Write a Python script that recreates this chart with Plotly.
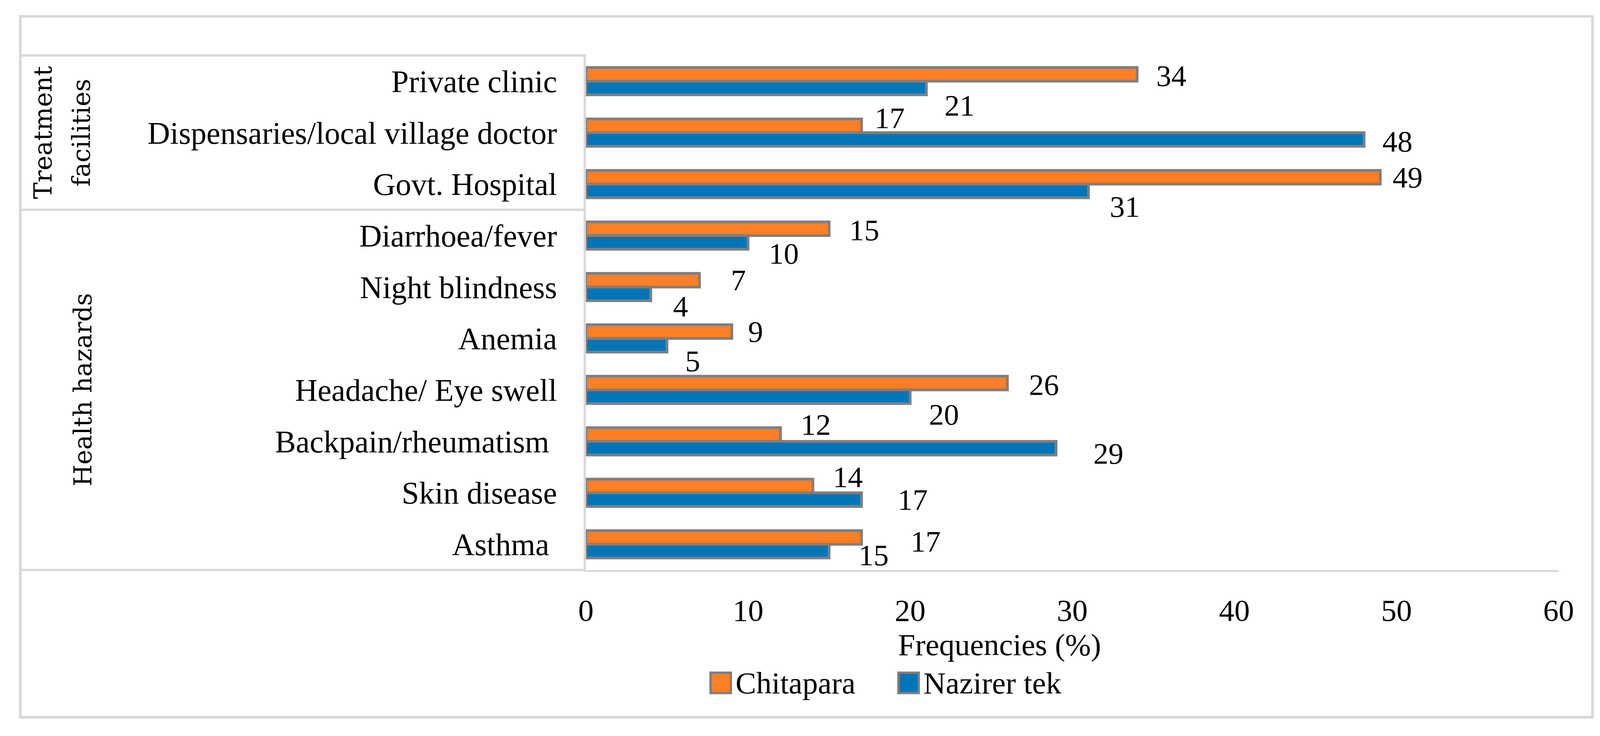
import plotly.graph_objects as go

# ---------------- data ----------------
categories = ["Private clinic", "Dispensaries/local village doctor", "Govt. Hospital",
              "Diarrhoea/fever", "Night blindness", "Anemia", "Headache/ Eye swell",
              "Backpain/rheumatism ", "Skin disease", "Asthma "]
group_names = [["Treatment", "facilities"], ["Health hazards"]]
group_sizes = [3, 7]
series_names = ["Chitapara", "Nazirer tek"]
chitapara = [34, 17, 49, 15, 7, 9, 26, 12, 14, 17]
nazirer_tek = [21, 48, 31, 10, 4, 5, 20, 29, 17, 15]
x_ticks = [0, 10, 20, 30, 40, 50, 60]
x_title = "Frequencies (%)"

# ---------------- style / layout (page pixel coordinates) ----------------
W, H = 4139, 1884
PAGE_OFF = 8  # default body margin of the html page
ML, MR, MT, MB = 1500, 149, 142, 425          # plot area in page coordinates
PW, PH = W - ML - MR, H - MT - MB
ORANGE, BLUE, EDGE, GRID = "#FF7F27", "#0075B9", "#7F7F7F", "#D9D9D9"
SERIF = "Liberation Serif"
GROUP_FONT = "DejaVu Serif"
BAR_HALF = 17.5  # px offset of each bar centre from the category centre

# manual data-label offsets (px): dx from bar end, dy from bar centre
chit_dx = [87, 72, 70, 90, 100, 61, 93, 90, 89, 164]
chit_dy = [4, -20, 0, 4, 0, 0, 4, -25, -23, 10]
naz_dx = [85, 85, 93, 91, 76, 66, 86, 134, 131, 114]
naz_dy = [45, 5, 40, 29, 32, 40, 45, 14, 0, 10]


def px_x(px):
    return (px - ML) / PW


def px_y(py):
    return (H - MB - py) / PH


fig = go.Figure()
for name, vals, col in [(series_names[0], chitapara, ORANGE), (series_names[1], nazirer_tek, BLUE)]:
    fig.add_trace(go.Bar(
        y=categories, x=vals, name=name, orientation="h",
        marker=dict(color=col, line=dict(color=EDGE, width=7)),
        showlegend=False,
    ))

annotations = []
# data labels
for vals, dxs, dys, off in [(chitapara, chit_dx, chit_dy, -BAR_HALF), (nazirer_tek, naz_dx, naz_dy, BAR_HALF)]:
    for i, v in enumerate(vals):
        annotations.append(dict(
            x=v, y=i, xref="x", yref="y", text=str(v), showarrow=False,
            xanchor="center", yanchor="middle", xshift=dxs[i], yshift=-(off + dys[i]),
            font=dict(family=SERIF, size=77, color="black"),
        ))

# group labels (rotated)
start = 0
group_x = [[110, 208], [212]]
for gi, (lines, size) in enumerate(zip(group_names, group_sizes)):
    centre = start + (size - 1) / 2
    for li, line in enumerate(lines):
        annotations.append(dict(
            x=px_x(group_x[gi][li]), y=centre, xref="paper", yref="y", text=line,
            showarrow=False, textangle=-90, xanchor="center", yanchor="middle",
            font=dict(family=GROUP_FONT, size=64, color="black"),
        ))
    start += size

# axis title
annotations.append(dict(
    x=px_x(2559), y=px_y(1650), xref="paper", yref="paper", text=x_title,
    showarrow=False, xanchor="center", yanchor="middle",
    font=dict(family=SERIF, size=79, color="black"),
))

# custom legend
shapes = []
legend_items = [(series_names[0], ORANGE, 1819), (series_names[1], BLUE, 2300)]
for name, col, lx in legend_items:
    shapes.append(dict(type="rect", xref="paper", yref="paper",
                       x0=px_x(lx), x1=px_x(lx + 52), y0=px_y(1774), y1=px_y(1722),
                       line=dict(color=EDGE, width=6), fillcolor=col))
    annotations.append(dict(
        x=px_x(lx + 62), y=px_y(1748), xref="paper", yref="paper", text=name,
        showarrow=False, xanchor="left", yanchor="middle",
        font=dict(family=SERIF, size=79, color="black"),
    ))

# outer border
shapes.append(dict(type="rect", xref="paper", yref="paper",
                   x0=px_x(52), x1=px_x(4077), y0=px_y(1836), y1=px_y(42),
                   line=dict(color=GRID, width=7), fillcolor="rgba(0,0,0,0)", layer="below"))
# category table lines
x_left = px_x(52)
shapes.append(dict(type="line", xref="paper", yref="paper", x0=x_left, x1=0, y0=1, y1=1,
                   line=dict(color=GRID, width=6)))
shapes.append(dict(type="line", xref="paper", yref="paper", x0=x_left, x1=0, y0=0, y1=0,
                   line=dict(color=GRID, width=6)))
shapes.append(dict(type="line", xref="paper", yref="y", x0=x_left, x1=0,
                   y0=group_sizes[0] - 0.5, y1=group_sizes[0] - 0.5,
                   line=dict(color=GRID, width=6)))

ticktext = [c.replace(" ", "\u00a0") for c in categories]

fig.update_layout(
    width=W - PAGE_OFF, height=H - PAGE_OFF, autosize=False,
    margin=dict(l=ML - PAGE_OFF, r=MR, t=MT - PAGE_OFF, b=MB, pad=0),
    paper_bgcolor="white", plot_bgcolor="white",
    barmode="group", bargap=0.4685, bargroupgap=0,
    showlegend=False,
    annotations=annotations, shapes=shapes,
    xaxis=dict(range=[0, 60], tickvals=x_ticks, ticks="", showgrid=False, zeroline=False,
               showline=True, linecolor=GRID, linewidth=5,
               tickfont=dict(family=SERIF, size=79, color="black"), ticklabelstandoff=30),
    yaxis=dict(type="category", categoryorder="array", categoryarray=categories,
               range=[len(categories) - 0.5, -0.5], autorange=False,
               tickvals=categories, ticktext=ticktext,
               ticks="", showgrid=False, zeroline=False,
               showline=True, linecolor=GRID, linewidth=6,
               tickfont=dict(family=SERIF, size=80, color="black"), ticklabelstandoff=52),
)

fig.write_html("out.html")
